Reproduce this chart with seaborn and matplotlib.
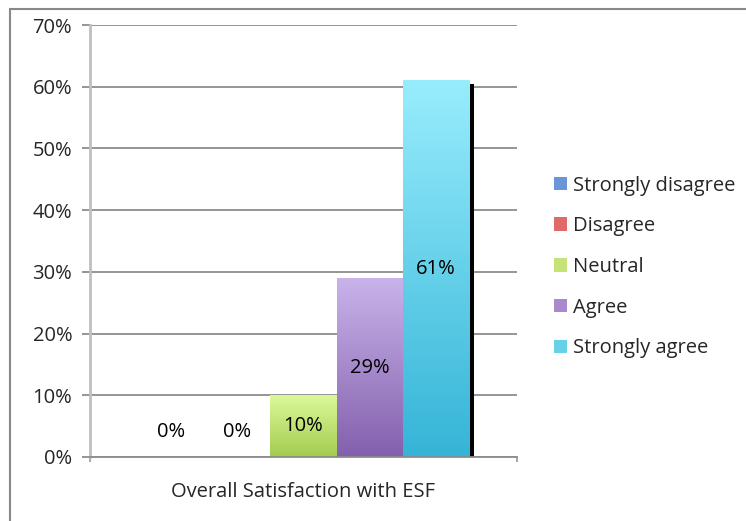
import numpy as np
import pandas as pd
import seaborn as sns
import matplotlib.pyplot as plt
import matplotlib.patheffects as pe
from matplotlib.patches import Patch
from matplotlib.colors import LinearSegmentedColormap
from matplotlib.lines import Line2D

# Data
category = 'Overall Satisfaction with ESF'
responses = ['Strongly disagree', 'Disagree', 'Neutral', 'Agree', 'Strongly agree']
shares = [0.0, 0.0, 0.10, 0.29, 0.61]
yticks = [0, 0.1, 0.2, 0.3, 0.4, 0.5, 0.6, 0.7]

# gradient colours (top, bottom) per response
grad_top = ['#8fb2ea', '#ec9090', '#dcf99a', '#c9b3ea', '#98edfd']
grad_bottom = ['#4a7cc7', '#c94c4c', '#a3cb4f', '#8360ad', '#35b4d7']
legend_colors = ['#6a95d9', '#de6a6a', '#c4e47a', '#a889cc', '#67d1ea']

FS = 14.5

df = pd.DataFrame({'category': [category] * len(responses),
                   'response': responses,
                   'share': shares})

sns.set_style('white')
plt.rcParams['font.family'] = ['Open Sans', 'DejaVu Sans']

fig = plt.figure(figsize=(7.46, 5.21), dpi=100)
ax = fig.add_axes([90 / 746, 64 / 521, 427 / 746, 432 / 521])

sns.barplot(data=df, x='category', y='share', hue='response',
            hue_order=responses, width=0.773, gap=0, ax=ax,
            legend=False, errorbar=None)

ax.set_xlim(-0.5, 0.5)
ax.set_ylim(0, 0.7)

# Gradient fills + shadow
grad = np.linspace(1, 0, 256).reshape(-1, 1)
for cont, top, bot, val in zip(ax.containers, grad_top, grad_bottom, shares):
    cmap = LinearSegmentedColormap.from_list('g', [bot, top])
    for bar in cont:
        bar.set_facecolor('black')
        bar.set_edgecolor('none')
        bar.set_zorder(1)
        bar.set_path_effects([pe.SimplePatchShadow(offset=(3.8, -2.2),
                                                   shadow_rgbFace='black',
                                                   alpha=1.0),
                              pe.Normal()])
        x0, w, h = bar.get_x(), bar.get_width(), bar.get_height()
        if h > 0:
            ax.imshow(grad, extent=[x0, x0 + w, 0, h], aspect='auto',
                      cmap=cmap, vmin=0, vmax=1, zorder=2,
                      interpolation='bilinear')
        # label
        ytxt = h / 2 if h > 0.05 else 0.04
        ax.text(x0 + w / 2, ytxt, f'{val:.0%}', ha='center', va='center',
                fontsize=FS, color='black', zorder=3)

ax.set_xlim(-0.5, 0.5)
ax.set_ylim(0, 0.7)

# Axis styling
ax.set_yticks(yticks)
ax.set_yticklabels([f'{t:.0%}' for t in yticks], fontsize=FS)
ax.yaxis.grid(True, color='#8c8c8c', linewidth=1.3)
ax.set_axisbelow(True)
ax.tick_params(axis='y', length=5.8, width=1.3, color='#8c8c8c', left=True,
               pad=7)
ax.set_xticks([0])
ax.set_xticklabels([category], fontsize=FS)
ax.set_xticks([-0.5, 0.5], minor=True)
ax.tick_params(axis='x', which='major', length=0, pad=18)
ax.tick_params(axis='x', which='minor', length=3.6, width=1.3,
               color='#a0a0a0', bottom=True)
ax.set_xlabel('')
ax.set_ylabel('')
for s in ['top', 'right']:
    ax.spines[s].set_visible(False)
ax.spines['left'].set_color('#bfbfbf')
ax.spines['left'].set_linewidth(2)
ax.spines['bottom'].set_color('#8c8c8c')
ax.spines['bottom'].set_linewidth(1.3)

# Legend
handles = [Patch(facecolor=c, edgecolor='none') for c in legend_colors]
fig.legend(handles, responses, loc='center left',
           bbox_to_anchor=(546 / 746, 254 / 521), frameon=False,
           fontsize=FS, handlelength=0.65, handleheight=0.65,
           handletextpad=0.3, labelspacing=1.03, borderaxespad=0)

# Chart border
fig.add_artist(Line2D([10 / 746, 10 / 746], [0, 512 / 521],
                      transform=fig.transFigure, color='#888888', lw=1.5))
fig.add_artist(Line2D([10 / 746, 1], [512 / 521, 512 / 521],
                      transform=fig.transFigure, color='#888888', lw=1.5))

fig.savefig('out.png', dpi=100)
